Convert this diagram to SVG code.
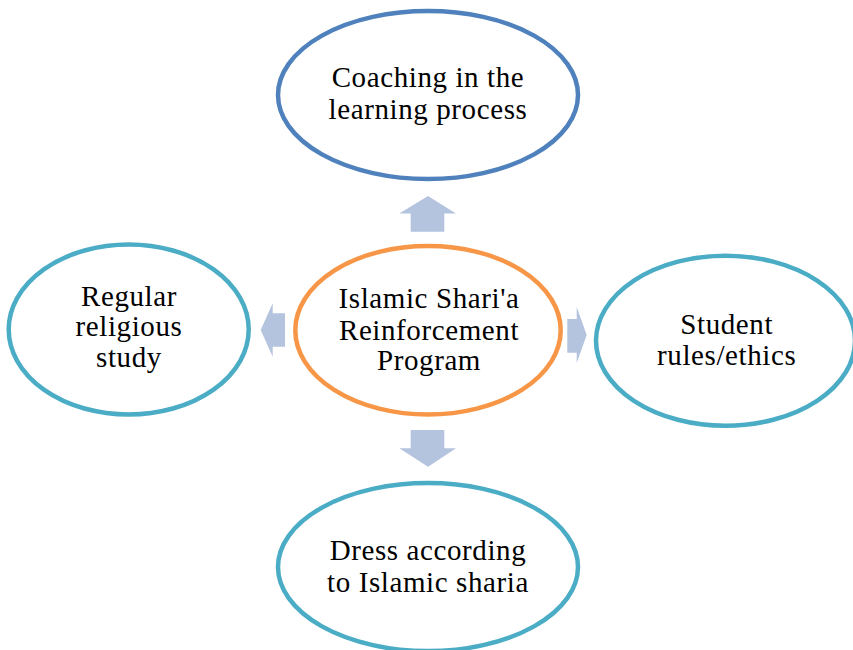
<svg xmlns="http://www.w3.org/2000/svg" width="853" height="650" viewBox="0 0 853 650">
<style>
.node{fill:#ffffff;stroke-width:4.5}
.blue{stroke:#4f81bd}
.teal{stroke:#4bacc6}
.orange{stroke:#f79646}
.lbl{font-family:"Liberation Serif","Times New Roman",serif;font-size:29px;letter-spacing:0.6px;fill:#000000;text-anchor:middle}
.arr{fill:#b4c3de;stroke:none}
</style>
<rect width="853" height="650" fill="#ffffff"/>
<g id="connectors">
<polygon class="arr" points="428,196 456,213.5 444.3,213.5 444.3,231.7 410.7,231.7 410.7,213.5 399.3,213.5"/>
<polygon class="arr" points="260.7,330 272.7,303.3 272.7,313.3 285,313.3 285,346.7 272.7,346.7 272.7,356.7"/>
<polygon class="arr" points="586.7,335 576.7,307 576.7,319 567.3,319 567.3,352.7 576.7,352.7 576.7,363"/>
<polygon class="arr" points="428,466.7 456,448.3 444.3,448.3 444.3,430 410.7,430 410.7,448.3 399.3,448.3"/>
</g>
<g id="node-top">
<ellipse class="node blue" cx="428" cy="95" rx="150" ry="84"/>
<text class="lbl" x="428" y="87">Coaching in the</text>
<text class="lbl" x="428" y="118.5">learning process</text>
</g>
<g id="node-center">
<ellipse class="node orange" cx="428" cy="330.3" rx="132.7" ry="84.3"/>
<text class="lbl" x="429" y="308.3">Islamic Shari'a</text>
<text class="lbl" x="429" y="340">Reinforcement</text>
<text class="lbl" x="429" y="370">Program</text>
</g>
<g id="node-left">
<ellipse class="node teal" cx="128.7" cy="329.5" rx="120" ry="85"/>
<text class="lbl" x="129" y="306">Regular</text>
<text class="lbl" x="129" y="336">religious</text>
<text class="lbl" x="129" y="366.7">study</text>
</g>
<g id="node-right">
<ellipse class="node teal" cx="725.5" cy="340.7" rx="129.5" ry="85"/>
<text class="lbl" x="726.7" y="334.3">Student</text>
<text class="lbl" x="726.7" y="365">rules/ethics</text>
</g>
<g id="node-bottom">
<ellipse class="node teal" cx="428" cy="567" rx="150" ry="84"/>
<text class="lbl" x="428" y="560">Dress according</text>
<text class="lbl" x="428" y="591.7">to Islamic sharia</text>
</g>
</svg>
